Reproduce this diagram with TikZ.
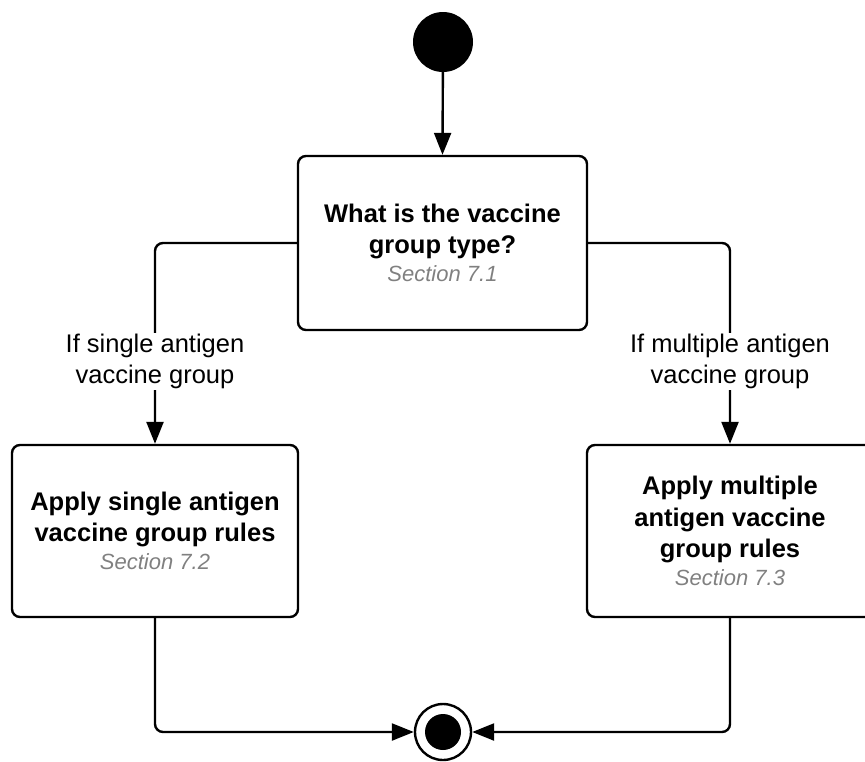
\documentclass[tikz,border=0pt]{standalone}
\usepackage{fontspec}
\setmainfont{Liberation Sans}
\usetikzlibrary{arrows.meta}
\definecolor{secgray}{HTML}{808080}
\tikzset{
  lw/.style={line width=2.4pt},
  box/.style={draw, lw, rounded corners=8pt, align=center, inner sep=0pt,
    font=\fontsize{25.5}{31.5}\selectfont\bfseries},
  lbl/.style={fill=white, align=center, inner sep=1pt,
    font=\fontsize{25.5}{31.5}\selectfont},
  conn/.style={lw, rounded corners=8pt, -{Triangle[length=22pt,width=17pt]}},
}
\newcommand{\secline}[1]{{\fontsize{22}{27}\selectfont\mdseries\itshape\color{secgray}#1}}
\begin{document}
\begin{tikzpicture}[x=1pt,y=-1pt]
\useasboundingbox (0,0) rectangle (865,761);
\clip (0,0) rectangle (865,761);
\node[circle, fill=black, minimum size=60pt, inner sep=0pt] (start) at (443,42) {};
\node[box, minimum width=289pt, minimum height=174pt] (b1) at (442.5,243)
  {What is the vaccine\\group type?\\[-3.5pt]\secline{Section 7.1}};
\node[box, minimum width=286pt, minimum height=172pt] (b2) at (155,531)
  {Apply single antigen\\vaccine group rules\\[-3.5pt]\secline{Section 7.2}};
\node[box, minimum width=286pt, minimum height=172pt] (b3) at (730,531)
  {Apply multiple\\antigen vaccine\\group rules\\[-3.5pt]\secline{Section 7.3}};
\node[circle, draw, lw, fill=white, minimum size=56pt, inner sep=0pt] (end) at (443,732) {};
\node[circle, fill=black, minimum size=36pt, inner sep=0pt] (endin) at (end) {};
\draw[conn] (start) -- (b1.north);
\draw[conn] (b1.west) -| (b2.north);
\draw[conn] (b1.east) -| (b3.north);
\node[lbl] (l1) at (155,361.5) {If single antigen\\vaccine group};
\node[lbl] (l2) at (730,361.5) {If multiple antigen\\vaccine group};
\draw[conn] (b2.south) |- (end.west);
\draw[conn] (b3.south) |- (end.east);
\end{tikzpicture}
\end{document}
